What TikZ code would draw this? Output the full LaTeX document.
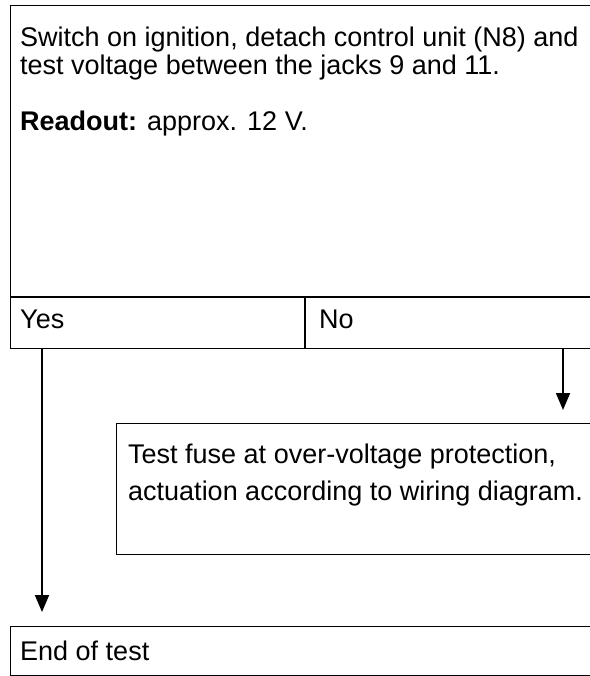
\documentclass[tikz,border=0pt]{standalone}
\usepackage{fontspec}
\setmainfont{Liberation Sans}
\usetikzlibrary{arrows.meta}
\begin{document}
\begin{tikzpicture}[x=1pt,y=-1pt,
  box/.style={draw=black,line width=1.3pt,anchor=north west,inner sep=0pt},
  txt/.style={anchor=base west,inner sep=0pt,font=\fontsize{27}{28}\selectfont},
  arr/.style={draw=black,line width=1.8pt,-{Triangle[width=14pt,length=17pt]}}]
\useasboundingbox (0,0) rectangle (589,676);
% top question box
\node[box,minimum width=640pt,minimum height=343pt] (q) at (10,5) {};
\draw[line width=1.3pt] (10,297) -- (640,297);
\draw[line width=1.3pt] (305,297) -- (305,348);
\node[txt] (q1) at (20,47) {Switch on ignition, detach control unit (N8) and};
\node[txt] (q2) at (20,75) {test voltage between the jacks 9 and 11.};
\node[txt] (q3) at (20,131) {\textbf{Readout:} approx. 12 V.};
\node[txt] (yes) at (20,328) {Yes};
\node[txt] (no) at (319,328) {No};
% middle box
\node[box,minimum width=600pt,minimum height=131pt] (m) at (116,423) {};
\node[txt] (m1) at (128,463) {Test fuse at over-voltage protection,};
\node[txt] (m2) at (128,500) {actuation according to wiring diagram.};
% end box
\node[box,minimum width=640pt,minimum height=49pt] (e) at (10,626) {};
\node[txt] (e1) at (20,660) {End of test};
% connectors
\coordinate (yesfoot) at (42,348);
\coordinate (yestip) at (42,612);
\coordinate (nofoot) at (563,348);
\coordinate (notip) at (563,410);
\draw[arr] (yesfoot) -- (yestip);
\draw[arr] (nofoot) -- (notip);
\end{tikzpicture}
\end{document}
